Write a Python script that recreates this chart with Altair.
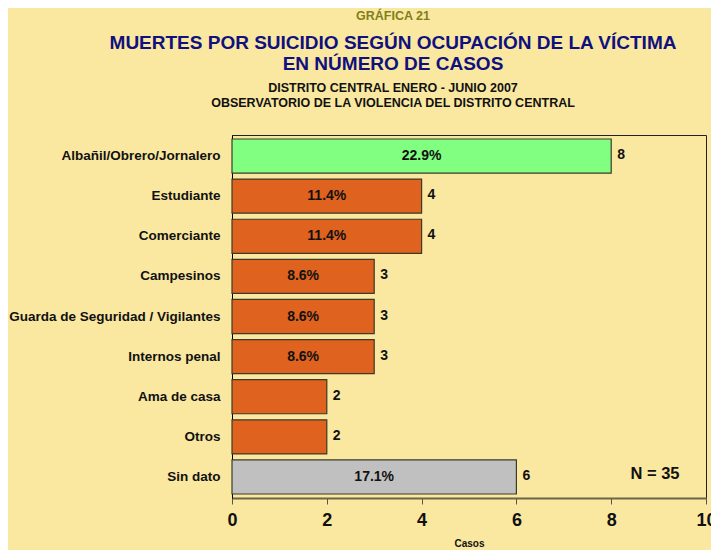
import altair as alt
import pandas as pd

categorias = ["Albañil/Obrero/Jornalero", "Estudiante", "Comerciante", "Campesinos",
              "Guarda de Seguridad / Vigilantes", "Internos penal", "Ama de casa",
              "Otros", "Sin dato"]
casos = [8, 4, 4, 3, 3, 3, 2, 2, 6]
porcentajes = ["22.9%", "11.4%", "11.4%", "8.6%", "8.6%", "8.6%", "", "", "17.1%"]
colores = ["#80FF80", "#DF621E", "#DF621E", "#DF621E", "#DF621E", "#DF621E",
           "#DF621E", "#DF621E", "#C0C0C0"]
x_ticks = [0, 2, 4, 6, 8, 10]

BG = "#FAE8A0"
FONT = "Liberation Sans"

df = pd.DataFrame({"cat": categorias, "casos": casos, "pct": porcentajes, "color": colores})

y_enc = alt.Y("cat:N", sort=categorias,
              scale=alt.Scale(paddingInner=0.15, paddingOuter=0.1),
              axis=alt.Axis(title=None, labelFontSize=13.5, labelFontWeight="bold",
                            labelColor="#111", labelPadding=12, ticks=False,
                            labelLimit=400, domainColor="#000", labelFont=FONT))
x_scale = alt.Scale(domain=[0, 10], nice=False)

base = alt.Chart(df)

bars = base.mark_bar(stroke="#3a3a2a", strokeWidth=1.2).encode(
    x=alt.X("casos:Q", scale=x_scale,
            axis=alt.Axis(values=x_ticks, title="Casos", labelFontSize=18,
                          labelFontWeight="bold", labelColor="#111", labelFont=FONT,
                          labelFlush=False, labelBound=False,
                          tickSize=6, tickColor="#555", domainColor="#6b6446",
                          domainWidth=2, grid=False, titleFontSize=10,
                          titleFontWeight="bold", titleColor="#111", titleFont=FONT,
                          titlePadding=9, labelPadding=7)),
    y=y_enc,
    color=alt.Color("color:N", scale=None),
)

vals = base.mark_text(align="left", dx=6, dy=-1, fontSize=14, fontWeight="bold",
                      font=FONT, color="#111").encode(
    x=alt.X("casos:Q", scale=x_scale), y=y_enc, text="casos:Q")

pcts = base.transform_calculate(mid="datum.casos / 2").mark_text(
    align="center", fontSize=14, fontWeight="bold", font=FONT, color="#111").encode(
    x=alt.X("mid:Q", scale=x_scale), y=y_enc, text="pct:N")

def label(txt, x, y, size, color, weight="bold"):
    return alt.Chart(pd.DataFrame({"t": [txt]})).mark_text(
        fontSize=size, fontWeight=weight, font=FONT, color=color,
        align="center", baseline="middle").encode(
        x=alt.value(x), y=alt.value(y), text="t:N")

titulos = [
    label("GRÁFICA 21", 161, -119, 12.5, "#7F7F1A"),
    label("MUERTES POR SUICIDIO SEGÚN OCUPACIÓN DE LA VÍCTIMA", 161, -92, 19, "#10107F"),
    label("EN NÚMERO DE CASOS", 161, -71, 19, "#10107F"),
    label("DISTRITO CENTRAL ENERO - JUNIO 2007", 161, -47, 12.5, "#111"),
    label("OBSERVATORIO DE LA VIOLENCIA DEL DISTRITO CENTRAL", 161, -32, 12.5, "#111"),
    label("N = 35", 423, 339, 16.5, "#111"),
]

chart = alt.layer(bars, pcts, vals, *titulos).properties(
    width=474, height=363,
    autosize=alt.AutoSizeParams(type="none"),
    padding={"left": 224, "top": 127, "right": 5, "bottom": 52},
    background=BG,
).configure_view(stroke="#222", strokeWidth=1)

chart.save("out.html", embed_options={"renderer": "svg", "actions": False})
